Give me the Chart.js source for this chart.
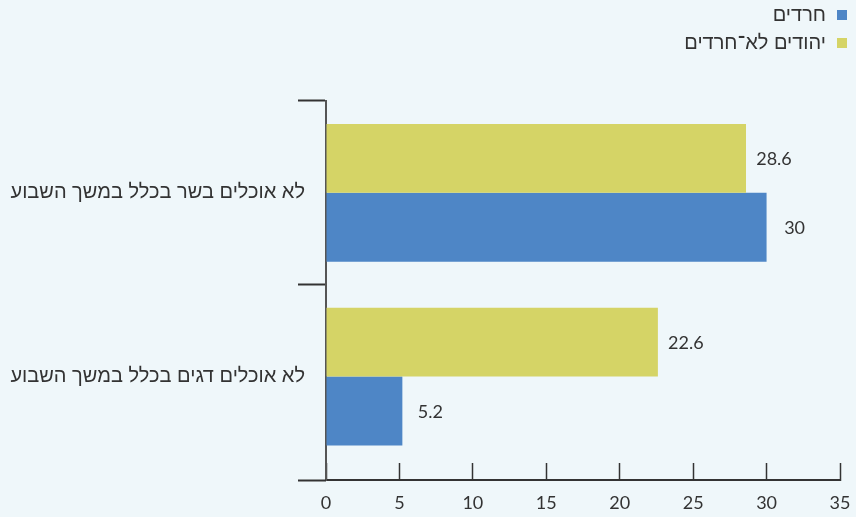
<!DOCTYPE html>
<html>
<head>
<meta charset="utf-8">
<script src="https://cdn.jsdelivr.net/npm/chart.js@4/dist/chart.umd.min.js"></script>
<style>
  html, body { margin: 0; padding: 0; background: #eff7fa; }
  #wrap { position: relative; width: 856px; height: 517px; }
</style>
</head>
<body>
<div id="wrap"><canvas id="c" width="856" height="517"></canvas></div>
<script>
const categories = ['לא אוכלים בשר בכלל במשך השבוע', 'לא אוכלים דגים בכלל במשך השבוע'];
const seriesNames = ['יהודים לא־חרדים', 'חרדים'];
const nonHaredi = [28.6, 22.6];
const haredi = [30, 5.2];
const xTicks = [0, 5, 10, 15, 20, 25, 30, 35];
const colors = ['#d5d466', '#4e86c6'];
const legendOrder = [1, 0];

const FONT = "Lato, 'Liberation Sans', sans-serif";
const HEB = "'Liberation Sans', Arial, sans-serif";
const TXT = '#333333';

const valueLabels = {
  id: 'valueLabels',
  afterDatasetsDraw(chart) {
    const ctx = chart.ctx;
    ctx.save();
    ctx.font = '18px ' + FONT;
    ctx.fillStyle = TXT;
    ctx.textAlign = 'center';
    ctx.textBaseline = 'middle';
    chart.data.datasets.forEach((ds, di) => {
      chart.getDatasetMeta(di).data.forEach((bar, i) => {
        ctx.fillText(String(ds.data[i]), bar.x + 28, bar.y + 1);
      });
    });
    ctx.restore();
  }
};

const extras = {
  id: 'extras',
  afterDraw(chart) {
    const ctx = chart.ctx;
    const a = chart.chartArea;
    ctx.save();
    ctx.strokeStyle = TXT;
    ctx.lineWidth = 2;
    ctx.beginPath();
    ctx.moveTo(a.left - 28, a.bottom + 0.5);
    ctx.lineTo(a.left, a.bottom + 0.5);
    ctx.stroke();
    ctx.font = '20px ' + HEB;
    ctx.textAlign = 'right';
    ctx.textBaseline = 'middle';
    legendOrder.forEach((di, k) => {
      const ds = chart.data.datasets[di];
      const y = 15 + k * 28;
      ctx.fillStyle = ds.backgroundColor;
      ctx.fillRect(837, y - 5, 10, 10);
      ctx.fillStyle = TXT;
      ctx.fillText(ds.label, 826, y);
    });
    ctx.restore();
  }
};

new Chart(document.getElementById('c'), {
  type: 'bar',
  data: {
    labels: categories,
    datasets: [
      { label: seriesNames[0], data: nonHaredi, backgroundColor: colors[0] },
      { label: seriesNames[1], data: haredi, backgroundColor: colors[1] }
    ]
  },
  options: {
    indexAxis: 'y',
    responsive: false,
    animation: false,
    maintainAspectRatio: false,
    layout: { padding: { top: 101, right: 16, bottom: 0, left: 0 } },
    datasets: { bar: { categoryPercentage: 0.75, barPercentage: 1.0 } },
    plugins: { legend: { display: false }, tooltip: { enabled: false } },
    scales: {
      x: {
        min: 0, max: 35,
        afterBuildTicks(scale) { scale.ticks = xTicks.map(v => ({ value: v })); },
        afterFit(scale) { scale.height = 37; },
        ticks: { color: TXT, font: { family: FONT, size: 18, lineHeight: 4.2 }, padding: 2, maxRotation: 0 },
        grid: { drawOnChartArea: false, drawTicks: true, tickLength: -17, tickColor: TXT, tickWidth: 1.5 },
        border: { display: true, color: TXT, width: 2 }
      },
      y: {
        offset: true,
        afterBuildTicks(scale) { scale._valueRange = 2.063; },
        afterFit(scale) { scale.width = 326; },
        ticks: { color: TXT, font: { family: HEB, size: 20 }, padding: -7 },
        grid: {
          offset: true, drawOnChartArea: false, drawTicks: true, tickLength: 28,
          tickColor: (c) => (c.type === 'tick' ? TXT : 'rgba(0,0,0,0)'), tickWidth: 2
        },
        border: { display: true, color: '#555555', width: 2 }
      }
    }
  },
  plugins: [valueLabels, extras]
});
</script>
</body>
</html>
